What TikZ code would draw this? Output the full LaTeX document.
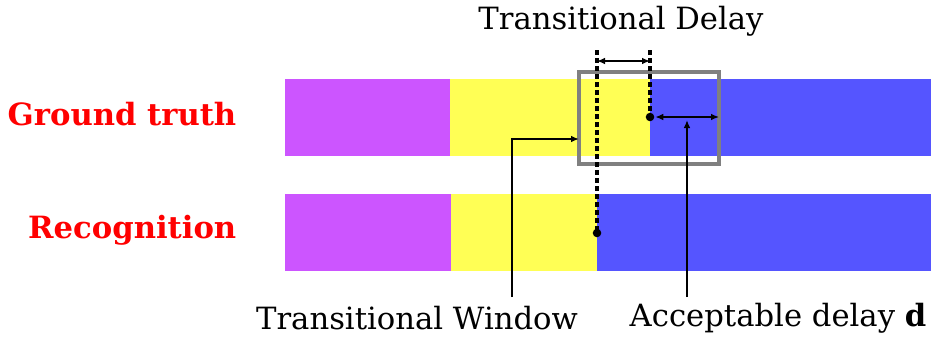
\documentclass[tikz,border=0pt]{standalone}
\usepackage{fontspec}
\setmainfont{DejaVu Serif}
\usetikzlibrary{arrows.meta}
\definecolor{purp}{HTML}{CC55FF}
\definecolor{yell}{HTML}{FFFF55}
\definecolor{blu}{HTML}{5555FF}
\begin{document}
\begin{tikzpicture}[x=0.75pt,y=-0.75pt,font=\fontsize{23}{27}\selectfont,
  rowlbl/.style={text=red,font=\fontsize{23}{27}\selectfont\bfseries,anchor=east},
  tick/.style={line width=2.4pt,dash pattern=on 4pt off 2pt},
  both/.style={{Latex[length=6pt,width=5pt]}-{Latex[length=6pt,width=5pt]},line width=1pt},
  lead/.style={-{Latex[length=6pt,width=5pt]},line width=1.4pt}]
\useasboundingbox (0,0) rectangle (931,340);
% ground truth row
\fill[purp] (285,79) rectangle (450,156);
\fill[yell] (450,79) rectangle (650,156);
\fill[blu] (650,79) rectangle (931,156);
% recognition row
\fill[purp] (285,194) rectangle (451,271);
\fill[yell] (451,194) rectangle (597,271);
\fill[blu] (597,194) rectangle (931,271);
\node[rowlbl] (gt) at (241,114) {Ground truth};
\node[rowlbl] (rec) at (241,230) {Recognition};
% acceptable window
\draw[line width=2.6pt,gray] (579,72) rectangle (719,164);
\coordinate (rtop) at (597,50);
\coordinate (rdot) at (597,233);
\coordinate (gtop) at (650,50);
\coordinate (gdot) at (650,117);
\coordinate (boxr) at (719,117);
\coordinate (boxl) at (579,139);
\draw[tick] (rtop) -- (rdot);
\draw[tick] (gtop) -- (gdot);
\fill (rdot) circle (3.2pt);
\fill (gdot) circle (3.2pt);
\draw[both] (597,61) -- (650,61);
\draw[both] ([xshift=4pt]gdot) -- (boxr);
\node (delay) at (621,21) {Transitional Delay};
\node (win) at (417,318) {Transitional Window};
\node (acc) at (778,318) {Acceptable delay \textbf{d}};
\draw[lead] (512,297) -- (512,139) -- (boxl);
\draw[lead] (687,297) -- (687,120);
\end{tikzpicture}
\end{document}
